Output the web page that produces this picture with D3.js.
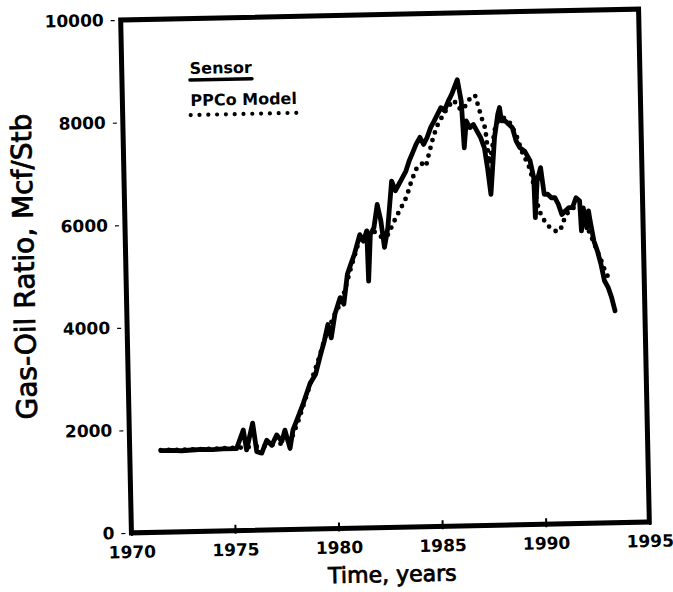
<!DOCTYPE html>
<html>
<head>
<meta charset="utf-8">
<script src="https://cdn.jsdelivr.net/npm/d3@7"></script>
<style>
  body { margin: 0; background: #fff; }
  text { font-family: "DejaVu Sans", sans-serif; fill: #000; }
</style>
</head>
<body>
<script>
const width = 673;
const height = 592;
const frame = { left: 126, right: 644, top: 14.5, bottom: 527.5 };

// tick values
const xTicks = [1970, 1975, 1980, 1985, 1990, 1995];
const yTicks = [0, 2000, 4000, 6000, 8000, 10000];

// Sensor (solid)
const sensorYears = [
  1971.5, 1972.0, 1972.5, 1973.0, 1973.5, 1974.0, 1974.5, 1975.16, 1975.5, 1975.64,
  1975.96, 1976.13, 1976.37, 1976.62, 1976.86, 1977.11, 1977.35, 1977.51, 1977.74, 1977.9,
  1978.17, 1978.42, 1978.77, 1979.04, 1979.31, 1979.5, 1979.69, 1979.84, 1980.04, 1980.31,
  1980.48, 1980.68, 1980.85, 1981.04, 1981.32, 1981.49, 1981.66, 1981.7, 1981.83, 1982.01,
  1982.19, 1982.35, 1982.5, 1982.68, 1982.91, 1983.08, 1983.25, 1983.43, 1983.61, 1983.78,
  1983.96, 1984.13, 1984.32, 1984.49, 1984.66, 1984.85, 1985.02, 1985.19, 1985.36, 1985.53,
  1985.73, 1985.9, 1986.18, 1986.35, 1986.45, 1986.57, 1986.74, 1986.91, 1987.08, 1987.25,
  1987.42, 1987.55, 1987.69, 1987.92, 1988.1, 1988.19, 1988.27, 1988.44, 1988.62, 1988.79,
  1988.96, 1989.13, 1989.36, 1989.61, 1989.77, 1989.81, 1989.93, 1990.11, 1990.26, 1990.43,
  1990.6, 1990.77, 1990.93, 1991.09, 1991.27, 1991.44, 1991.61, 1991.79, 1991.96, 1992.02,
  1992.13, 1992.28, 1992.38, 1992.45, 1992.61, 1992.77, 1992.93, 1993.08, 1993.25, 1993.41,
  1993.56
];
const sensorValues = [
  1590, 1590, 1580, 1590, 1600, 1590, 1600, 1600, 1960, 1570,
  2090, 1530, 1500, 1750, 1650, 1850, 1720, 1940, 1580, 1940,
  2200, 2450, 2840, 3010, 3400, 3660, 3980, 3720, 4180, 4500,
  4370, 4950, 5140, 5340, 5720, 5590, 5790, 4810, 5720, 5850,
  6300, 5980, 5460, 5840, 6750, 6560, 6680, 6810, 6940, 7140,
  7300, 7460, 7590, 7450, 7580, 7780, 7900, 8030, 8160, 8100,
  8290, 8420, 8700, 8280, 7370, 7890, 7760, 7820, 7690, 7560,
  7360, 6970, 6450, 7560, 8010, 8140, 7880, 7880, 7810, 7740,
  7480, 7350, 7280, 7090, 6760, 5980, 6690, 6950, 6430, 6430,
  6360, 6360, 6230, 6030, 6100, 6160, 6160, 6350, 6290, 5700,
  6150, 5760, 6090, 5890, 5500, 5300, 5040, 4720, 4590, 4390,
  4130
];

// PPCo Model (dotted)
const modelYears = [
  1971.5, 1973.0, 1974.5, 1975.5, 1976.5, 1977.3, 1977.8, 1978.2, 1978.5, 1978.8,
  1979.2, 1979.6, 1980.0, 1980.4, 1980.8, 1981.2, 1981.6, 1982.0, 1982.4, 1982.69,
  1983.07, 1983.37, 1983.62, 1983.88, 1984.13, 1984.38, 1984.58, 1984.7, 1984.97, 1985.22,
  1985.47, 1985.72, 1986.0, 1986.2, 1986.44, 1986.61, 1986.78, 1987.02, 1987.17, 1987.32,
  1987.48, 1987.56, 1987.65, 1987.8, 1987.92, 1988.1, 1988.37, 1988.62, 1988.96, 1989.27,
  1989.52, 1989.7, 1989.83, 1990.0, 1990.25, 1990.5, 1990.76, 1990.99, 1991.16, 1991.43,
  1991.69, 1991.95, 1992.2, 1992.44, 1992.7, 1992.95, 1993.17, 1993.45
];
const modelValues = [
  1600, 1600, 1610, 1620, 1640, 1680, 1750, 2150, 2500, 2850,
  3300, 3800, 4150, 4450, 5000, 5500, 5700, 5780, 5650, 5710,
  6030, 6250, 6440, 6760, 6990, 7080, 7020, 7210, 7600, 7860,
  8020, 8180, 8300, 8150, 8110, 8240, 8330, 8390, 8170, 7940,
  7740, 7400, 7050, 7350, 7690, 7880, 7940, 7880, 7610, 7220,
  7020, 6760, 6430, 6110, 5910, 5780, 5710, 5710, 5900, 6100,
  6160, 6160, 5890, 5630, 5370, 5110, 4850, 4700
];

const sensor = sensorYears.map((d, i) => ({ year: d, value: sensorValues[i] }));
const model = modelYears.map((d, i) => ({ year: d, value: modelValues[i] }));

const svg = d3.select('body')
  .append('svg')
    .attr('width', width)
    .attr('height', height)
    .attr('viewBox', [0, 0, width, height].join(' '));

svg.append('rect')
  .attr('width', width)
  .attr('height', height)
  .attr('fill', '#fff');

// the scan is tilted a little
const chart = svg.append('g')
  .attr('transform', 'rotate(-1.2 385 271)');

const x = d3.scaleLinear()
  .domain([1970, 1995])
  .range([frame.left, frame.right]);

const y = d3.scaleLinear()
  .domain([0, 10000])
  .range([frame.bottom, frame.top]);

const line = d3.line()
  .curve(d3.curveLinear)
  .x((d) => x(d.year))
  .y((d) => y(d.value));

// y axis: short dashes left of the frame
const yAxis = d3.axisLeft(y)
  .tickValues(yTicks)
  .tickSizeInner(4)
  .tickSizeOuter(0)
  .tickPadding(7)
  .tickFormat(d3.format('d'));

chart.append('g')
    .attr('transform', `translate(${frame.left - 6}, 0)`)
    .call(yAxis)
    .call((g) => g.select('.domain').remove())
    .call((g) => g.selectAll('line').attr('stroke', '#000').attr('stroke-width', 1.2))
    .call((g) => g.selectAll('text')
      .attr('font-size', 17)
      .attr('font-weight', 'bold')
      .attr('font-family', '"DejaVu Sans", sans-serif'));

// x axis: ticks cross the bottom edge
const xAxis = d3.axisBottom(x)
  .tickValues(xTicks)
  .tickSizeInner(-6)
  .tickSizeOuter(0)
  .tickPadding(13)
  .tickFormat(d3.format('d'));

chart.append('g')
    .attr('transform', `translate(0, ${frame.bottom})`)
    .call(xAxis)
    .call((g) => g.select('.domain').remove())
    .call((g) => g.selectAll('line')
      .attr('y1', 3)
      .attr('stroke', '#000')
      .attr('stroke-width', 2))
    .call((g) => g.selectAll('text')
      .attr('font-size', 17)
      .attr('font-weight', 'bold')
      .attr('font-family', '"DejaVu Sans", sans-serif'));

// frame
chart.append('rect')
  .attr('x', frame.left)
  .attr('y', frame.top)
  .attr('width', frame.right - frame.left)
  .attr('height', frame.bottom - frame.top)
  .attr('fill', 'none')
  .attr('stroke', '#000')
  .attr('stroke-width', 5);

// series
chart.append('path')
  .datum(model)
  .attr('fill', 'none')
  .attr('stroke', '#000')
  .attr('stroke-width', 4.8)
  .attr('stroke-linecap', 'round')
  .attr('stroke-dasharray', '0 8')
  .attr('d', line);

chart.append('path')
  .datum(sensor)
  .attr('fill', 'none')
  .attr('stroke', '#000')
  .attr('stroke-width', 4.8)
  .attr('stroke-linejoin', 'round')
  .attr('stroke-linecap', 'round')
  .attr('d', line);

// legend
const legend = chart.append('g')
  .attr('transform', 'translate(194, 70)');

legend.append('text')
  .attr('font-size', 16)
  .attr('font-weight', 'bold')
  .text('Sensor');

legend.append('line')
  .attr('x1', 0).attr('x2', 62)
  .attr('y1', 6).attr('y2', 6)
  .attr('stroke', '#000')
  .attr('stroke-width', 3.5)
  .attr('stroke-linecap', 'round');

legend.append('text')
  .attr('y', 32)
  .attr('font-size', 16)
  .attr('font-weight', 'bold')
  .text('PPCo Model');

legend.append('line')
  .attr('x1', 0).attr('x2', 106)
  .attr('y1', 41).attr('y2', 41)
  .attr('stroke', '#000')
  .attr('stroke-width', 4.2)
  .attr('stroke-linecap', 'round')
  .attr('stroke-dasharray', '0 8.8');

// axis titles
chart.append('text')
  .attr('x', 386)
  .attr('y', 582)
  .attr('text-anchor', 'middle')
  .attr('font-size', 22)
  .attr('stroke', '#000')
  .attr('stroke-width', 0.8)
  .text('Time, years');

chart.append('text')
  .attr('transform', 'translate(34, 259) rotate(-90)')
  .attr('text-anchor', 'middle')
  .attr('font-size', 28)
  .attr('stroke', '#000')
  .attr('stroke-width', 0.8)
  .text('Gas-Oil Ratio, Mcf/Stb');
</script>
</body>
</html>
